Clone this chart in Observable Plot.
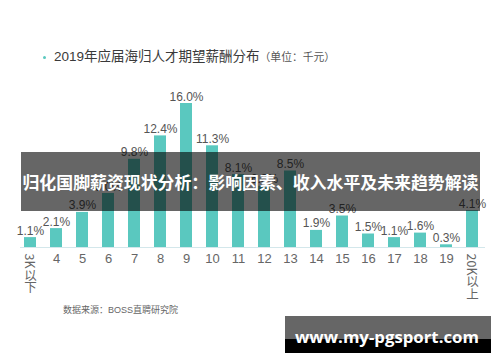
<!DOCTYPE html>
<html>
<head>
<meta charset="utf-8">
<script src="https://cdn.jsdelivr.net/npm/d3@7"></script>
<script src="https://cdn.jsdelivr.net/npm/@observablehq/plot@0.6"></script>
<style>
  html, body { margin: 0; padding: 0; background: #fff; }
  #wrap { position: relative; width: 500px; height: 362px; overflow: hidden; font-family: "Liberation Sans", "Noto Sans CJK SC", sans-serif; }
  #title { position: absolute; left: 41px; top: 47px; height: 18px; line-height: 18px; white-space: nowrap; color: #3a3a3a; font-size: 13.5px; }
  #title .dot { display: inline-block; width: 3px; height: 3px; border-radius: 50%; background: #5ac8bf; vertical-align: middle; margin: 0 8px 0 2px; }
  #title .unit { font-size: 10.8px; color: #555; font-family: "Noto Sans CJK SC", sans-serif; }
  #chart { position: absolute; left: 0; top: 70px; }
  #caption { position: absolute; left: 63px; top: 305px; font-size: 9px; line-height: 11px; color: #666; white-space: nowrap; }
  #banner { position: absolute; left: 21px; top: 152px; width: 459px; height: 59px; background: rgba(0,0,0,0.6); }
  #banner span { position: absolute; left: -1px; width: 461px; top: 19px; line-height: 22px; text-align: center; color: #fff; font-family: "Noto Sans CJK SC", sans-serif; font-weight: 700; font-size: 16.9px; white-space: nowrap; }
  #mark { position: absolute; left: 285px; top: 316px; width: 206px; height: 37px; background: linear-gradient(#666 0, #666 23px, #000 23px, #000 37px); }
  #mark span { position: absolute; left: 10px; top: 11px; line-height: 20px; font-family: "Open Sans", sans-serif; font-weight: 700; font-size: 16.8px; color: #fff; white-space: nowrap; }
</style>
</head>
<body>
<div id="wrap">
  <div id="title"><span class="dot"></span>2019年应届海归人才期望薪酬分布<span class="unit">（单位：千元）</span></div>
  <div id="chart"></div>
  <div id="caption">数据来源：BOSS直聘研究院</div>
  <div id="banner"><span>归化国脚薪资现状分析：影响因素、收入水平及未来趋势解读</span></div>
  <div id="mark"><span>www.my-pgsport.com</span></div>
</div>
<script>
const categories = ["3K以下", "4", "5", "6", "7", "8", "9", "10", "11", "12", "13", "14", "15", "16", "17", "18", "19", "20K以上"];
const values = [1.1, 2.1, 3.9, 6.0, 9.8, 12.4, 16.0, 11.3, 8.1, 6.8, 8.5, 1.9, 3.5, 1.5, 1.1, 1.6, 0.3, 4.1];
const valueLabels = ["1.1%", "2.1%", "3.9%", "6.0%", "9.8%", "12.4%", "16.0%", "11.3%", "8.1%", "6.8%", "8.5%", "1.9%", "3.5%", "1.5%", "1.1%", "1.6%", "0.3%", "4.1%"];

const data = categories.map((c, i) => ({cat: c, value: values[i], label: valueLabels[i]}));

const chart = Plot.plot({
  width: 500,
  height: 240,
  marginLeft: 8,
  marginRight: 7,
  marginTop: 33,
  marginBottom: 63,
  style: {fontFamily: "'Liberation Sans', 'Noto Sans CJK SC', sans-serif", color: "#666", background: "transparent"},
  x: {domain: categories, padding: 0.54, label: null},
  y: {domain: [0, 16], axis: null},
  marks: [
    Plot.ruleY([0], {stroke: "#d3e7eb", strokeWidth: 1, insetLeft: 12, insetRight: 8}),
    Plot.barY(data, {x: "cat", y: "value", fill: "#5ac8bf"}),
    Plot.text(data, {x: "cat", y: "value", text: "label", lineAnchor: "bottom", dy: -3, fontSize: 12, fill: "#555"}),
    Plot.axisX({tickSize: 0, tickPadding: 6, fontSize: 13, fill: "#666"})
  ]
});

document.getElementById("chart").appendChild(chart);

// vertical writing for the end labels
chart.querySelectorAll("text").forEach(t => {
  if (/以/.test(t.textContent) && /K/.test(t.textContent)) {
    t.removeAttribute("dy");
    t.removeAttribute("y");
    t.style.writingMode = "vertical-rl";
    t.style.textAnchor = "start";
    t.setAttribute("text-anchor", "start");
    t.style.fontFamily = "'Noto Sans CJK SC', sans-serif";
    t.style.fontSize = "12.5px";
    t.style.fill = "#666";
  }
});
</script>
</body>
</html>
